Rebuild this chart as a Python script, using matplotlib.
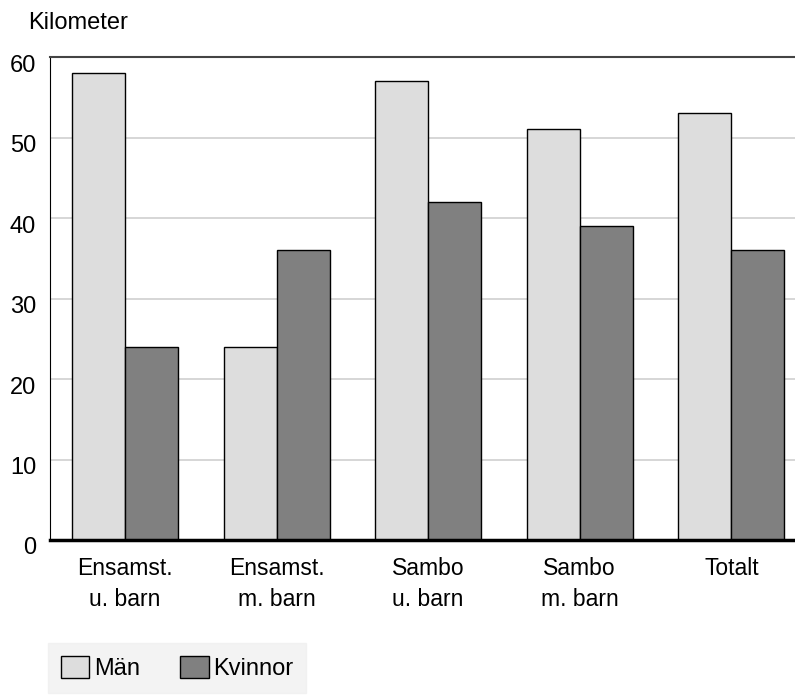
import numpy as np
import matplotlib.pyplot as plt
from matplotlib.patches import Patch
from matplotlib.transforms import ScaledTranslation

plt.rcParams['font.family'] = ['Liberation Sans', 'DejaVu Sans']

categories = ["Ensamst.\nu. barn", "Ensamst.\nm. barn", "Sambo\nu. barn", "Sambo\nm. barn", "Totalt"]
man = [58, 24, 57, 51, 53]
kvinnor = [24, 36, 42, 39, 36]
yticks = [0, 10, 20, 30, 40, 50, 60]

fig = plt.figure(figsize=(7.95, 6.95), dpi=100)
ax = fig.add_axes([50/795, 1 - 540/695, 745/795, 483/695])

x = np.arange(len(categories))
w = 0.35
ax.bar(x - w/2, man, w, color='#dddddd', edgecolor='black', linewidth=1, zorder=3)
ax.bar(x + w/2, kvinnor, w, color='#808080', edgecolor='black', linewidth=1, zorder=3)

ax.set_ylim(0, 60)
ax.set_xlim(-0.495, 4.42)
ax.set_yticks(yticks)
ax.set_xticks(x)
ax.set_xticklabels(categories, fontsize=16.5, linespacing=1.45)
ax.tick_params(axis='y', length=0, labelsize=17, pad=10)
ax.tick_params(axis='x', length=0, pad=12)
# y labels sit a bit under their grid lines
off = ScaledTranslation(0, -6/100, fig.dpi_scale_trans)
for t in ax.get_yticklabels():
    t.set_transform(t.get_transform() + off)
ax.grid(axis='y', color='#d0d0d0', linewidth=1.2, zorder=0)

ax.spines['right'].set_visible(False)
ax.spines['top'].set_color('#444444')
ax.spines['top'].set_linewidth(1.5)
ax.spines['left'].set_color('black')
ax.spines['bottom'].set_linewidth(2.5)
ax.spines['bottom'].set_zorder(5)

fig.text(28/795, 1 - 23/695, "Kilometer", fontsize=17, va='center', ha='left')

handles = [Patch(facecolor='#dddddd', edgecolor='black'),
           Patch(facecolor='#808080', edgecolor='black')]
leg = fig.legend(handles, ["Män", "Kvinnor"], loc='lower left',
                 bbox_to_anchor=(48/795, 2/695), ncol=2, frameon=True,
                 fontsize=17, handlelength=1.2, handleheight=1.1,
                 handletextpad=0.2, columnspacing=1.7, borderpad=0.55,
                 borderaxespad=0, fancybox=False)
leg.get_frame().set_facecolor('#f0f0f0')
leg.get_frame().set_edgecolor('#f0f0f0')

fig.savefig('out.png', dpi=100)
